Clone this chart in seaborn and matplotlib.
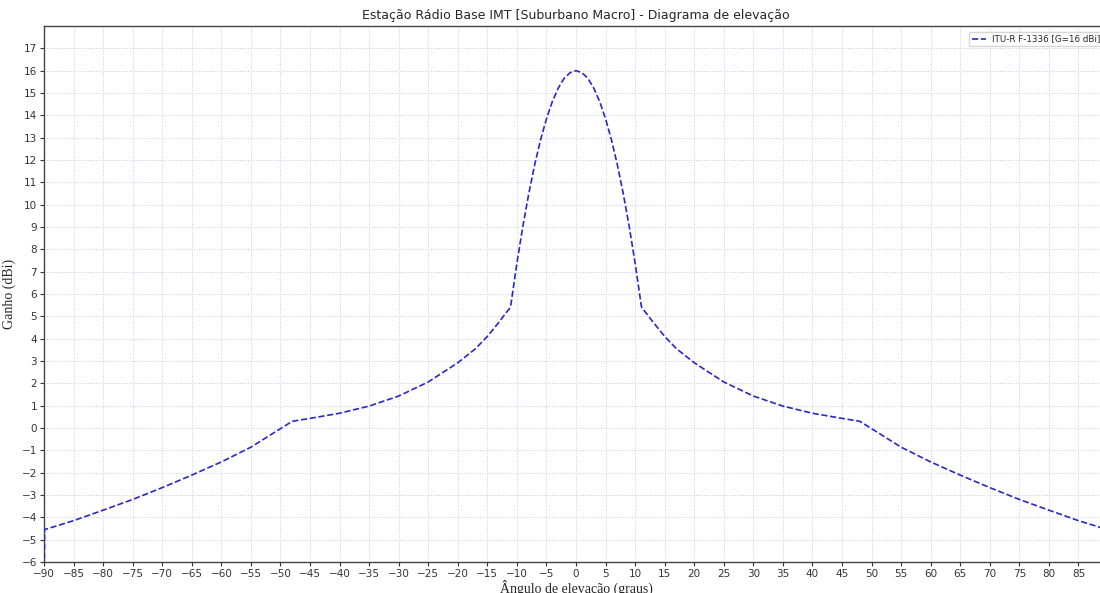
import matplotlib
matplotlib.use("Agg")
import matplotlib.pyplot as plt
import seaborn as sns
import pandas as pd

angles = [-90, -89.9, -85, -80, -75, -70, -65, -60, -55, -50, -48, -45, -40, -35, -30, -25,
          -20, -17, -15, -13, -12, -11.1, -11, -10, -9, -8, -7, -6, -5, -4, -3, -2, -1,
          0, 1, 2, 3, 4, 5, 6, 7, 8, 9, 10, 11, 11.1, 12, 13, 15, 17, 20, 25, 30, 35,
          40, 45, 48, 50, 55, 60, 65, 70, 75, 80, 85, 89.9, 90]
gains = [-8.0, -4.55, -4.15, -3.68, -3.20, -2.67, -2.11, -1.52, -0.86, -0.03, 0.30, 0.43,
         0.66, 0.98, 1.43, 2.06, 2.92, 3.55, 4.10, 4.75, 5.10, 5.40, 5.55, 7.38, 9.02,
         10.48, 11.78, 12.90, 13.84, 14.62, 15.22, 15.66, 15.91,
         16.0, 15.91, 15.66, 15.22, 14.62, 13.84, 12.90, 11.78, 10.48, 9.02, 7.38, 5.55,
         5.40, 5.10, 4.75, 4.10, 3.55, 2.92, 2.06, 1.43, 0.98, 0.66, 0.43, 0.30, -0.03,
         -0.86, -1.52, -2.11, -2.67, -3.20, -3.68, -4.15, -4.55, -8.0]
series_label = "ITU-R F-1336 [G=16 dBi]"
x_ticks = list(range(-90, 95, 5))
y_ticks = list(range(-6, 18))

df = pd.DataFrame({"angle": angles, "gain": gains, "serie": series_label})

sns.set_style("ticks")
fig = plt.figure(figsize=(11, 5.93), dpi=100)
ax = fig.add_axes([0.04, 0.0523, 0.9673, 0.9039])

sns.lineplot(data=df, x="angle", y="gain", hue="serie", palette=["#2727cc"],
             linestyle="--", linewidth=1.2, sort=True, ax=ax, zorder=3)

ax.set_xlim(-90, 90)
ax.set_ylim(-6, 18)
ax.set_xticks(x_ticks)
ax.set_yticks(y_ticks)
ax.tick_params(axis="both", labelsize=7.5, direction="out", length=3, width=0.8,
               pad=2, colors="#333333")
ax.grid(True, color="#cacaee", linestyle=":", linewidth=0.7)
for s in ax.spines.values():
    s.set_color("#444444")
    s.set_linewidth(1.0)

ax.set_title("Estação Rádio Base IMT [Suburbano Macro] - Diagrama de elevação",
             fontsize=9, pad=5)
ax.set_xlabel("Ângulo de elevação (graus)", family="Liberation Serif", fontsize=10,
              labelpad=0.5)
ax.set_ylabel("Ganho (dBi)", family="Liberation Serif", fontsize=10, labelpad=4)

leg = ax.legend(loc="upper left", bbox_to_anchor=(969 / 1100, 1 - 32 / 593),
                bbox_transform=fig.transFigure, borderaxespad=0, fontsize=6.3,
                frameon=True, fancybox=True, borderpad=0.3, handlelength=1.6,
                handletextpad=0.7)
leg.get_frame().set_edgecolor("#cccccc")

fig.savefig("out.png", dpi=100)
